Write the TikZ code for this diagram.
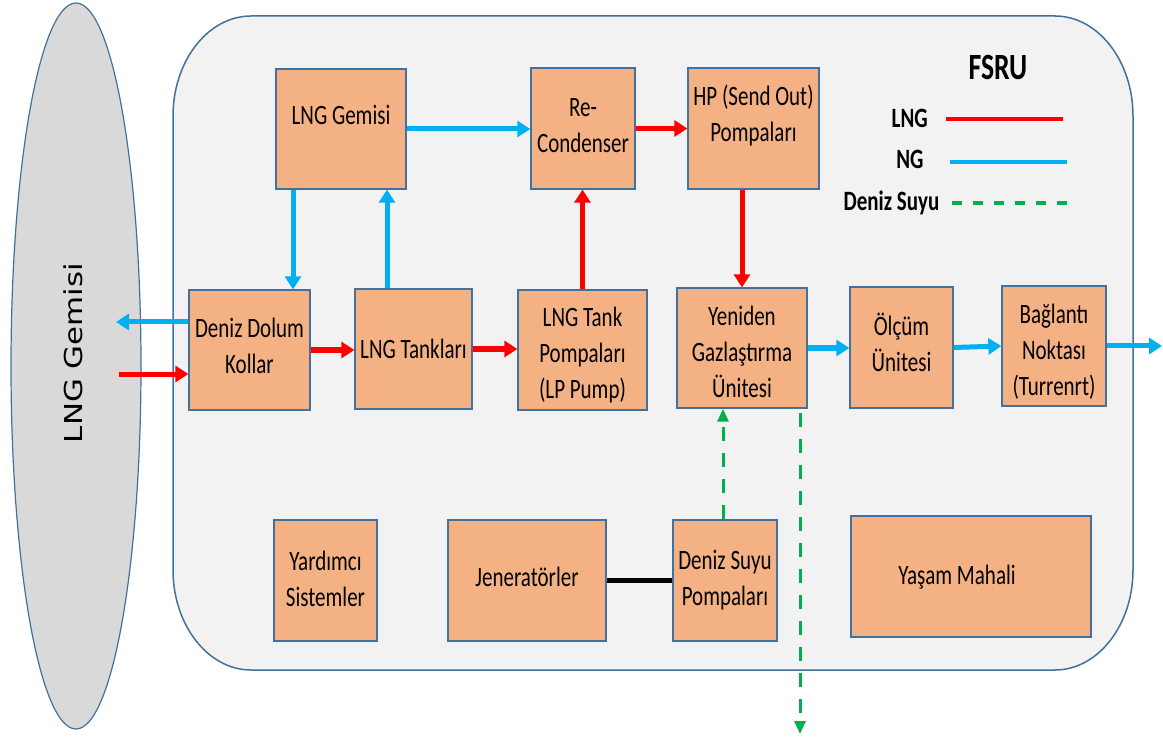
\documentclass[tikz,border=0pt]{standalone}
\usepackage{fontspec}
\setmainfont{Carlito}[FakeStretch=0.75]
\newfontfamily\shipfont{DejaVu Sans}[FakeStretch=1.25]
\usetikzlibrary{arrows.meta,shapes.geometric}
\definecolor{boxfill}{HTML}{F4B183}
\definecolor{boxline}{HTML}{41719C}
\definecolor{panel}{HTML}{F2F2F2}
\definecolor{shipfill}{HTML}{D9D9D9}
\definecolor{lngred}{HTML}{FF0000}
\definecolor{ngblue}{HTML}{00B0F0}
\definecolor{seagreen}{HTML}{00B050}
\begin{document}
\begin{tikzpicture}[x=1pt,y=-1pt,
  box/.style={draw=boxline,fill=boxfill,line width=1.3pt,inner sep=1pt,align=center,font=\fontsize{28}{36}\selectfont},
  txt/.style={align=center,font=\fontsize{28}{36}\selectfont,inner sep=0pt},
  lgtxt/.style={font=\bfseries\fontsize{28}{36}\selectfont,inner sep=0pt,anchor=base},
  lng/.style={draw=lngred,line width=5pt,-{Triangle[length=13pt,width=16pt]}},
  ng/.style={draw=ngblue,line width=5pt,-{Triangle[length=13pt,width=16pt]}},
  sea/.style={draw=seagreen,line width=3pt,dash pattern=on 14pt off 12pt,-{Triangle[length=13pt,width=11pt]}},
  ]
\useasboundingbox (0,0) rectangle (1163,738);

% ship ellipse
\node[draw=boxline,fill=shipfill,ellipse,line width=1.2pt,minimum width=130pt,minimum height=726pt,inner sep=0pt] (ship) at (76,366) {};
\node[rotate=90,font=\shipfont\fontsize{24.7}{30}\selectfont,inner sep=0pt] (shiplbl) at (73,353) {LNG Gemisi};

% FSRU panel
\draw[draw=boxline,fill=panel,line width=1.5pt]
  (251,16) -- (1055,16) .. controls (1098,16) and (1133,61) .. (1133,116)
  -- (1133,570) .. controls (1133,625) and (1098,670) .. (1055,670)
  -- (251,670) .. controls (208,670) and (173,625) .. (173,570)
  -- (173,116) .. controls (173,61) and (208,16) .. (251,16) -- cycle;

% boxes
\node[box,minimum width=130pt,minimum height=120pt] (lngg) at (341,129) {};
\node[txt] (lnggt) at (341,115) {LNG Gemisi};
\node[box,minimum width=104pt,minimum height=121pt] (recon) at (583,128.5) {};
\node[txt] (recont) at (583,125.5) {Re-\\Condenser};
\node[box,minimum width=131pt,minimum height=121pt] (hp) at (753.5,128.5) {};
\node[txt] (hpt) at (753.5,116) {HP (Send Out)\\Pompaları};
\node[box,minimum width=121pt,minimum height=120pt] (ddk) at (249.5,350) {};
\node[txt] (ddkt) at (249.5,346) {Deniz Dolum\\Kollar};
\node[box,minimum width=117pt,minimum height=120pt] (tank) at (413.5,349) {LNG Tankları};
\node[box,minimum width=129pt,minimum height=120pt] (lp) at (582.5,350) {};
\node[txt] (lpt) at (582.5,355) {LNG Tank\\Pompaları\\(LP Pump)};
\node[box,minimum width=130pt,minimum height=120pt] (yen) at (742,348) {};
\node[txt] (yent) at (742,352) {Yeniden\\Gazlaştırma\\Ünitesi};
\node[box,minimum width=103pt,minimum height=121pt] (olc) at (901.5,347.5) {};
\node[txt] (olct) at (901.5,342.5) {Ölçüm\\Ünitesi};
\node[box,minimum width=104pt,minimum height=120pt] (bag) at (1054,346) {};
\node[txt] (bagt) at (1054,352) {Bağlantı\\Noktası\\(Turrenrt)};
\node[box,minimum width=103pt,minimum height=121pt] (yar) at (325.5,580.5) {};
\node[txt] (yart) at (325.5,578.5) {Yardımcı\\Sistemler};
\node[box,minimum width=158pt,minimum height=121pt] (jen) at (527,580.5) {};
\node[txt] (jent) at (527,577) {Jeneratörler};
\node[box,minimum width=104pt,minimum height=121pt] (dsp) at (725,580.5) {Deniz Suyu\\Pompaları};
\node[box,minimum width=240pt,minimum height=121pt] (yas) at (971,576.5) {};
\node[txt] (yast) at (957,577) {Yaşam Mahali};

% connectors
\draw[ng] (lngg.east) -- (lngg.east -| recon.west);
\draw[lng] (recon.east) -- (recon.east -| hp.west);
\draw[lng] (hp.south -| yen.north) -- (yen.north);
\draw[lng] (lp.north) -- (lp.north |- recon.south);
\draw[ng] ([xshift=-48pt]lngg.south) -- ([xshift=-48pt]lngg.south |- ddk.north);
\draw[ng] ([xshift=-26.5pt]tank.north) -- ([xshift=-26.5pt]tank.north |- lngg.south);
\coordinate (shipout) at (116,322);
\coordinate (shipin) at (119,374);
\draw[ng] ([yshift=28pt]ddk.west) -- (shipout);
\draw[lng] (shipin) -- (shipin -| ddk.west);
\draw[lng] (ddk.east) -- (ddk.east -| tank.west);
\draw[lng] (tank.east) -- (tank.east -| lp.west);
\draw[ng] (yen.east) -- (yen.east -| olc.west);
\draw[ng] (olc.east) -- (bag.west);
\coordinate (gridout) at (1162,346);
\draw[ng] (bag.east) -- (gridout);
\draw[sea] ([xshift=-2pt]dsp.north) -- ([xshift=-2pt]dsp.north |- yen.south);
\coordinate (seaout) at (800,734);
\draw[sea] ([xshift=58pt,yshift=-4pt]yen.south) -- (seaout);
\draw[line width=4.5pt] (jen.east) -- (jen.east -| dsp.west);

% legend
\node[font=\bfseries\fontsize{37}{44}\selectfont,inner sep=0pt,anchor=base] (fsru) at (998,80) {FSRU};
\node[lgtxt,anchor=base east] (lgl) at (928,128) {LNG};
\node[lgtxt] (lgn) at (910,169) {NG};
\node[lgtxt] (lgs) at (891.5,211) {Deniz Suyu};
\coordinate (l1a) at (946,119); \coordinate (l1b) at (1063,119);
\coordinate (l2a) at (950,162); \coordinate (l2b) at (1067,162);
\coordinate (l3a) at (952,203); \coordinate (l3b) at (1068,203);
\draw[lngred,line width=4pt] (l1a) -- (l1b);
\draw[ngblue,line width=4pt] (l2a) -- (l2b);
\draw[seagreen,line width=4pt,dash pattern=on 10pt off 11pt] (l3a) -- (l3b);
\end{tikzpicture}
\end{document}
